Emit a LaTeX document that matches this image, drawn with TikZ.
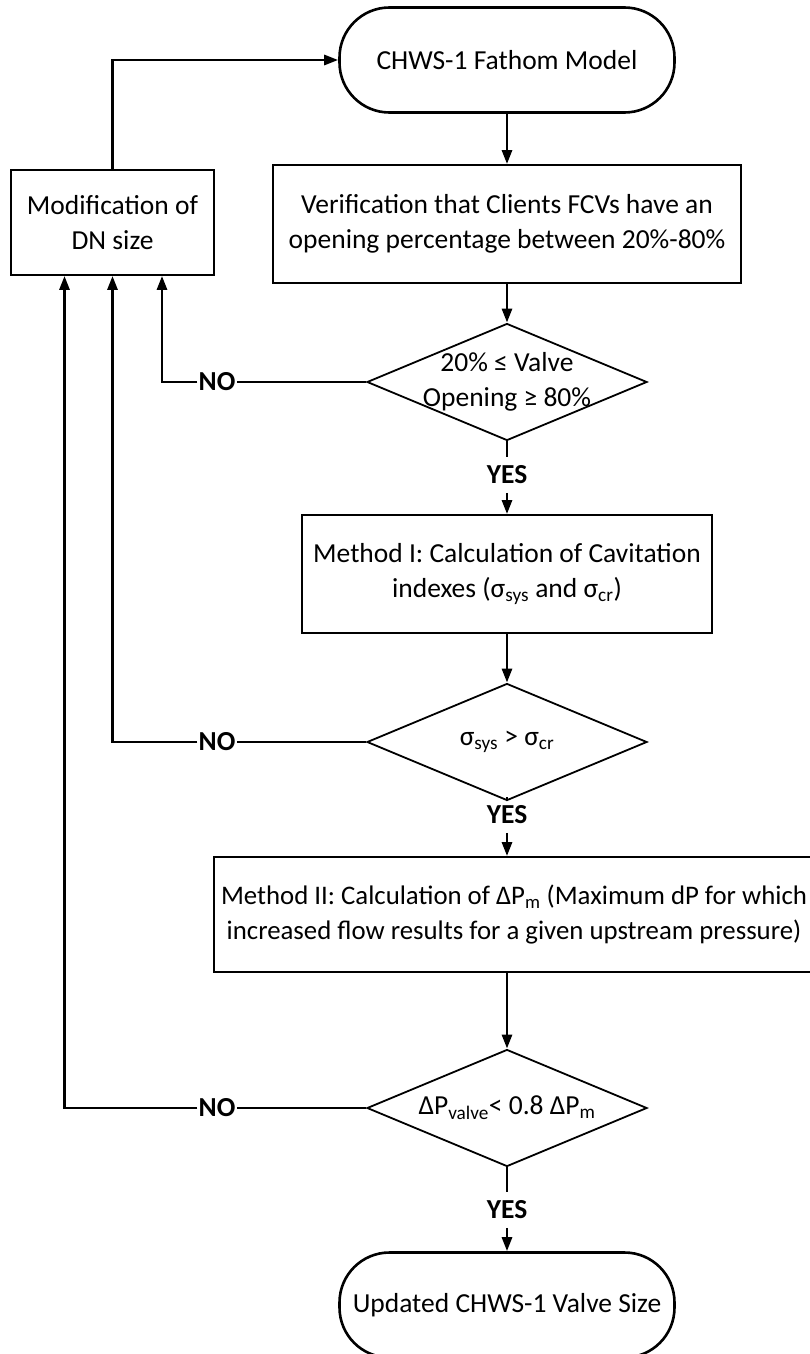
\documentclass[tikz,border=0pt]{standalone}
\usepackage{fontspec}
\setmainfont{Carlito}
\usetikzlibrary{shapes.geometric,arrows.meta}

\tikzset{
  every node/.style={font=\fontsize{27.5}{35}\selectfont},
  proc/.style={draw, line width=1.8pt, rectangle, align=center, inner sep=0pt},
  term/.style={draw, line width=2.6pt, rectangle, rounded corners=50pt,
               minimum width=335pt, minimum height=105pt, inner sep=0pt},
  decision/.style={draw, line width=1.8pt, diamond, inner sep=0pt,
                   minimum width=280pt, minimum height=117pt, shape aspect=2.39},
  dtext/.style={align=center, inner sep=0pt},
  conn/.style={line width=2.8pt, -{Triangle[length=14pt,width=10pt]}},
  plain/.style={line width=2.8pt},
  yes/.style={font=\fontsize{27.5}{35}\selectfont\bfseries, inner xsep=2pt, inner ysep=8.5pt},
  no/.style={font=\fontsize{27.5}{35}\selectfont\bfseries, inner sep=1pt, fill=white},
}

\begin{document}
\begin{tikzpicture}[x=1pt, y=1pt]
\useasboundingbox (0,0) rectangle (810,-1354);
\fill[white] (0,0) rectangle (810,-1354);

% main column
\node[term] (start) at (507,-60) {CHWS-1 Fathom Model};
\node[proc, minimum width=468pt, minimum height=118pt] (verify) at (507,-224)
  {Verification that Clients FCVs have an\\opening percentage between 20\%-80\%};
\node[decision] (d1) at (507,-382) {};
\node[dtext] (d1t) at (d1.center) {20\% ≤ Valve\\Opening ≥ 80\%};
\node[yes] (yes1) at (507,-475) {YES};
\node[proc, minimum width=410pt, minimum height=118pt] (m1) at (507,-574)
  {Method I: Calculation of Cavitation\\indexes (σ\textsubscript{sys} and σ\textsubscript{cr})};
\node[decision] (d2) at (507,-742) {};
\node[dtext] (d2t) at (d2.center) {σ\textsubscript{sys} > σ\textsubscript{cr}};
\node[yes] (yes2) at (507,-815) {YES};
\node[proc, minimum width=600pt, minimum height=115pt,
      font=\fontsize{26.8}{35}\selectfont] (m2) at (514,-914.5)
  {Method II: Calculation of ΔP\textsubscript{m} (Maximum dP for which\\increased flow results for a given upstream pressure)};
\node[decision] (d3) at (507,-1108) {};
\node[dtext] (d3t) at (d3.center) {ΔP\textsubscript{valve}< 0.8 ΔP\textsubscript{m}};
\node[yes] (yes3) at (507,-1210) {YES};
\node[term] (stop) at (507,-1305) {Updated CHWS-1 Valve Size};

% side box
\node[proc, minimum width=203pt, minimum height=105pt] (mod) at (112.5,-222.5)
  {Modification of\\DN size};
\coordinate (in1) at ([xshift=49.5pt]mod.south);
\coordinate (in2) at (mod.south);
\coordinate (in3) at ([xshift=-48pt]mod.south);

% NO labels
\node[no] (no1) at (217,-382) {NO};
\node[no] (no2) at (217,-742) {NO};
\node[no] (no3) at (217,-1108) {NO};

% forward flow
\draw[conn] (start) -- (verify);
\draw[conn] (verify) -- (d1);
\draw[plain] (d1.south) -- (yes1.north);
\draw[conn] (yes1.south) -- (m1.north);
\draw[conn] (m1) -- (d2);
\draw[plain] (d2.south) -- (yes2.north);
\draw[conn] (yes2.south) -- (m2.north -| yes2.south);
\draw[conn] (m2.south -| d3.north) -- (d3.north);
\draw[plain] (d3.south) -- (yes3.north);
\draw[conn] (yes3.south) -- (stop.north);

% feedback loops
\draw[plain] (d1.west) -- (no1.east);
\draw[conn] (no1.west) -| (in1);
\draw[plain] (d2.west) -- (no2.east);
\draw[conn] (no2.west) -| (in2);
\draw[plain] (d3.west) -- (no3.east);
\draw[conn] (no3.west) -| (in3);
\draw[conn] (mod.north) |- (start.west);
\end{tikzpicture}
\end{document}
